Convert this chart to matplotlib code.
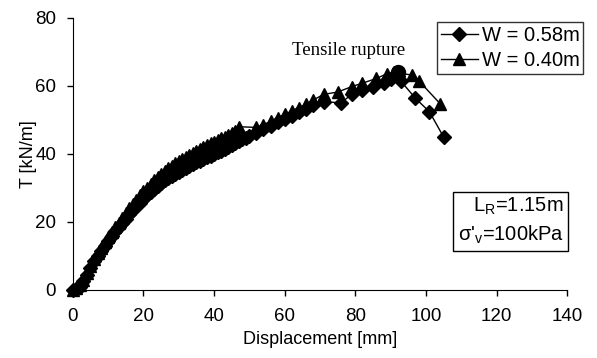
import matplotlib.pyplot as plt

# W = 0.58 m (diamonds)
disp_058 = [0, 1, 2, 3, 4, 5, 6, 7, 8, 9, 10, 11, 12, 13, 14, 15, 16, 17, 18, 19,
            20, 21, 22, 23, 24, 25, 26, 27, 28, 29, 30, 31, 32, 33, 34, 35, 36, 37,
            38, 39, 40, 41, 42, 43, 44, 45, 46, 47, 48, 49, 50, 52, 54, 56, 58, 60,
            62, 64, 66, 68, 71, 76, 79, 82, 85, 88, 90, 92, 93, 97, 101, 105]
t_058 = [0, 0.3, 1.0, 2.5, 4.5, 6.5, 8.5, 10.0, 11.5, 13.0, 14.5, 16.0, 17.3, 18.6,
         19.8, 21.0, 22.2, 23.4, 24.6, 25.7, 26.8, 27.8, 28.8, 29.7, 30.6, 31.4, 32.2,
         32.9, 33.6, 34.2, 34.8, 35.4, 35.9, 36.5, 37.0, 37.5, 38.0, 38.5, 39.0, 39.5,
         40.0, 40.5, 41.0, 41.5, 42.0, 42.6, 43.2, 43.8, 44.3, 44.8, 45.3, 46.3, 47.3,
         48.3, 49.3, 50.3, 51.3, 52.3, 53.3, 54.3, 55.4, 55.0, 57.6, 58.8, 59.8, 61.0,
         62.0, 63.0, 61.3, 56.4, 52.4, 45.0]

# W = 0.40 m (triangles)
disp_040 = [0, 1, 2, 3, 4, 5, 6, 7, 8, 9, 10, 11, 12, 13, 14, 15, 16, 17, 18, 19,
            20, 21, 22, 23, 24, 25, 26, 27, 28, 29, 30, 31, 32, 33, 34, 35, 36, 37,
            38, 39, 40, 41, 42, 43, 44, 45, 46, 47, 52, 54, 56, 58, 60, 62, 64, 66,
            68, 71, 75, 79, 82, 86, 89, 91, 96, 98, 104]
t_040 = [0, 0.5, 1.5, 3.0, 5.0, 7.0, 9.0, 10.8, 12.4, 14.0, 15.5, 17.0, 18.4, 19.8,
         21.2, 22.6, 24.0, 25.3, 26.6, 27.8, 29.0, 30.1, 31.2, 32.2, 33.2, 34.1, 35.0,
         35.8, 36.6, 37.3, 38.0, 38.6, 39.2, 39.8, 40.4, 41.0, 41.5, 42.0, 42.6, 43.1,
         43.6, 44.1, 44.6, 45.1, 45.6, 46.1, 46.6, 48.0, 47.8, 48.6, 49.6, 50.6, 51.6,
         52.6, 53.6, 54.6, 55.8, 57.5, 58.2, 59.8, 60.8, 62.2, 63.6, 64.0, 63.2, 61.5, 54.8]

rupture_x = [92]
rupture_t = [64.2]

x_ticks = [0, 20, 40, 60, 80, 100, 120, 140]
y_ticks = [0, 20, 40, 60, 80]

fig = plt.figure(figsize=(5.97, 3.58), dpi=100)
ax = fig.add_axes([0.122, 0.19, 0.828, 0.76])

ax.plot(disp_058, t_058, color='black', linewidth=1, marker='D', markersize=7,
        label='W = 0.58m', clip_on=False)
ax.plot(disp_040, t_040, color='black', linewidth=1, marker='^', markersize=8.5,
        label='W = 0.40m', clip_on=False)
ax.plot(rupture_x, rupture_t, color='black', marker='o', markersize=10, linestyle='none')

ax.text(78, 70.3, 'Tensile rupture', family='Liberation Serif', fontsize=13.5,
        ha='center', va='center')

ax.text(139, 20.2, "L$\\mathregular{_R}$=1.15m\nσ'$\\mathregular{_v}$=100kPa",
        family='Liberation Sans', fontsize=14.5,
        ha='right', va='center', linespacing=1.4,
        bbox=dict(boxstyle='square,pad=0.22', facecolor='white', edgecolor='black', linewidth=1))

ax.set_xlim(0, 140)
ax.set_ylim(0, 80)
ax.set_xticks(x_ticks)
ax.set_yticks(y_ticks)
ax.spines['top'].set_visible(False)
ax.spines['right'].set_visible(False)
ax.tick_params(labelsize=13.5, length=4, width=1)
ax.tick_params(axis='x', pad=9)
ax.tick_params(axis='y', pad=8)
for lbl in ax.get_xticklabels() + ax.get_yticklabels():
    lbl.set_family('Liberation Sans')
ax.set_xlabel('Displacement [mm]', family='Liberation Sans', fontsize=13, labelpad=4)
ax.set_ylabel('T [kN/m]', family='Liberation Sans', fontsize=13, labelpad=-1)

leg = ax.legend(loc='upper right', bbox_to_anchor=(1.033, 0.985), frameon=True, fancybox=False,
                prop={'family': 'Liberation Sans', 'size': 14.5}, handlelength=1.8,
                handletextpad=0.2, borderpad=0.2, labelspacing=0.3, borderaxespad=0)
leg.get_frame().set_edgecolor('black')
leg.get_frame().set_linewidth(1)

fig.savefig('out.png', dpi=100)
